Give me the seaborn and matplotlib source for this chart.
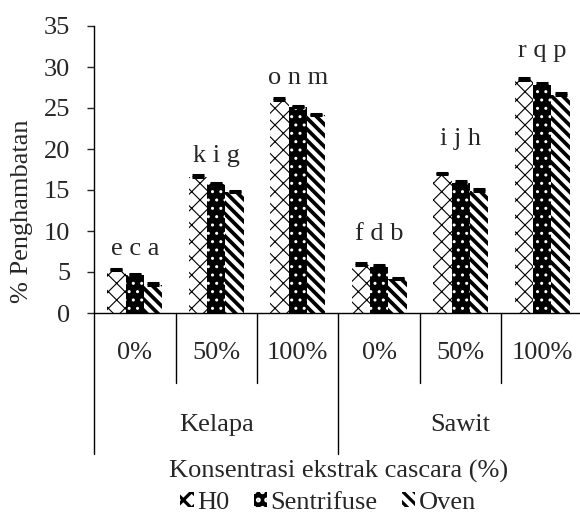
import matplotlib
matplotlib.use("Agg")
import matplotlib.pyplot as plt
import matplotlib.patches as mpatches
import matplotlib.transforms as mtransforms
import seaborn as sns
import pandas as pd

# data
sources = ["Kelapa", "Sawit"]
concentrations = ["0%", "50%", "100%", "0%", "50%", "100%"]
methods = ["H0", "Sentrifuse", "Oven"]
h0 = [5.2, 16.6, 26.0, 5.9, 16.9, 28.4]
sentrifuse = [4.6, 15.7, 25.1, 5.6, 15.9, 27.8]
oven = [3.4, 14.7, 24.1, 4.1, 14.9, 26.6]
err_h0 = [0.2, 0.2, 0.2, 0.2, 0.2, 0.2]
err_sentrifuse = [0.2, 0.2, 0.2, 0.2, 0.2, 0.2]
err_oven = [0.2, 0.2, 0.2, 0.2, 0.2, 0.2]
letters = ["e c a", "k i g", "o n m", "f d b", "i j h", "r q p"]
letter_y = [7.8, 19.1, 28.7, 9.6, 21.2, 32.0]

groups = [f"{s} {c}" for s in sources for c in ["0%", "50%", "100%"]]
df = pd.DataFrame({
    "group": groups * 3,
    "method": [m for m in methods for _ in groups],
    "value": h0 + sentrifuse + oven,
})
errs = [err_h0, err_sentrifuse, err_oven]

sns.set_style("white")
plt.rcParams["font.family"] = ["Liberation Serif", "DejaVu Serif"]
plt.rcParams["hatch.linewidth"] = 2.3
FS = 19

fig = plt.figure(figsize=(5.8, 5.18), dpi=100)
ax = fig.add_axes([94 / 580, 205 / 518, 489 / 580, 287 / 518])

sns.barplot(data=df, x="group", y="value", hue="method", order=groups,
            hue_order=methods, width=0.68, linewidth=0, legend=False,
            palette={"H0": "white", "Sentrifuse": "black", "Oven": "white"},
            ax=ax)

styles = {
    "H0": dict(hatch="xx", edgecolor="black", lw=0.8),
    "Sentrifuse": dict(hatch="..", edgecolor="white", lw=1.0),
    "Oven": dict(hatch="\\\\\\", edgecolor="black", lw=2.7),
}
for cont, m, e in zip(ax.containers, methods, errs):
    st = styles[m]
    xs, tops = [], []
    for bar in cont:
        bar.set_hatch(st["hatch"])
        bar.set_edgecolor(st["edgecolor"])
        bar.set_linewidth(0)
        if hasattr(bar, "set_hatch_linewidth"):
            bar.set_hatch_linewidth(st["lw"])
        xs.append(bar.get_x() + bar.get_width() / 2)
        tops.append(bar.get_height())
    ax.errorbar(xs, tops, yerr=[[0] * len(e), e], fmt="none", ecolor="black",
                elinewidth=1, capsize=4.5, capthick=2.2, zorder=5)

for i, (lab, y) in enumerate(zip(letters, letter_y)):
    ax.text(i, y, lab, ha="center", va="center", fontsize=FS)

ax.set_xlim(-0.5, 5.5)
ax.set_ylim(0, 35)
ax.set_yticks(range(0, 36, 5))
ax.tick_params(axis="y", direction="out", length=5, width=1, labelsize=FS, pad=12, left=True)
ax.set_xticks([])
ax.set_xlabel("")
ax.set_ylabel("% Penghambatan", fontsize=FS, va="center")
ax.yaxis.set_label_coords(-0.147, 0.355)
sns.despine(ax=ax)
for sp in ["left", "bottom"]:
    ax.spines[sp].set_color("black")
    ax.spines[sp].set_linewidth(1)

# multi-level category axis
trans = mtransforms.blended_transform_factory(ax.transData, ax.transAxes)
for i, c in enumerate(concentrations):
    ax.text(i, -0.139, c, transform=trans, ha="center", va="center", fontsize=FS)
for i, s in enumerate(sources):
    ax.text(3 * i + 1, -0.39, s, transform=trans, ha="center", va="center", fontsize=FS)
for xd in [-0.5, 0.5, 1.5, 2.5, 3.5, 4.5, 5.5]:
    yend = -0.491 if xd in (-0.5, 2.5, 5.5) else -0.244
    ax.plot([xd, xd], [0, yend], transform=trans, color="black", lw=1, clip_on=False)

ax.text(0.5, -0.551, "Konsentrasi ekstrak cascara (%)", transform=ax.transAxes,
        ha="center", va="center", fontsize=FS)

handles = []
for m in methods:
    h = mpatches.Patch(facecolor="white" if m != "Sentrifuse" else "black",
                       edgecolor=styles[m]["edgecolor"], hatch=styles[m]["hatch"],
                       linewidth=0, label=m)
    if hasattr(h, "set_hatch_linewidth"):
        h.set_hatch_linewidth(styles[m]["lw"])
    handles.append(h)
ax.legend(handles=handles, loc="center", bbox_to_anchor=(0.479, -0.662), ncol=3,
          frameon=False, fontsize=FS, handlelength=0.5, handleheight=0.5,
          handletextpad=0.15, columnspacing=0.9, borderpad=0)

fig.savefig("out.png", dpi=100)
